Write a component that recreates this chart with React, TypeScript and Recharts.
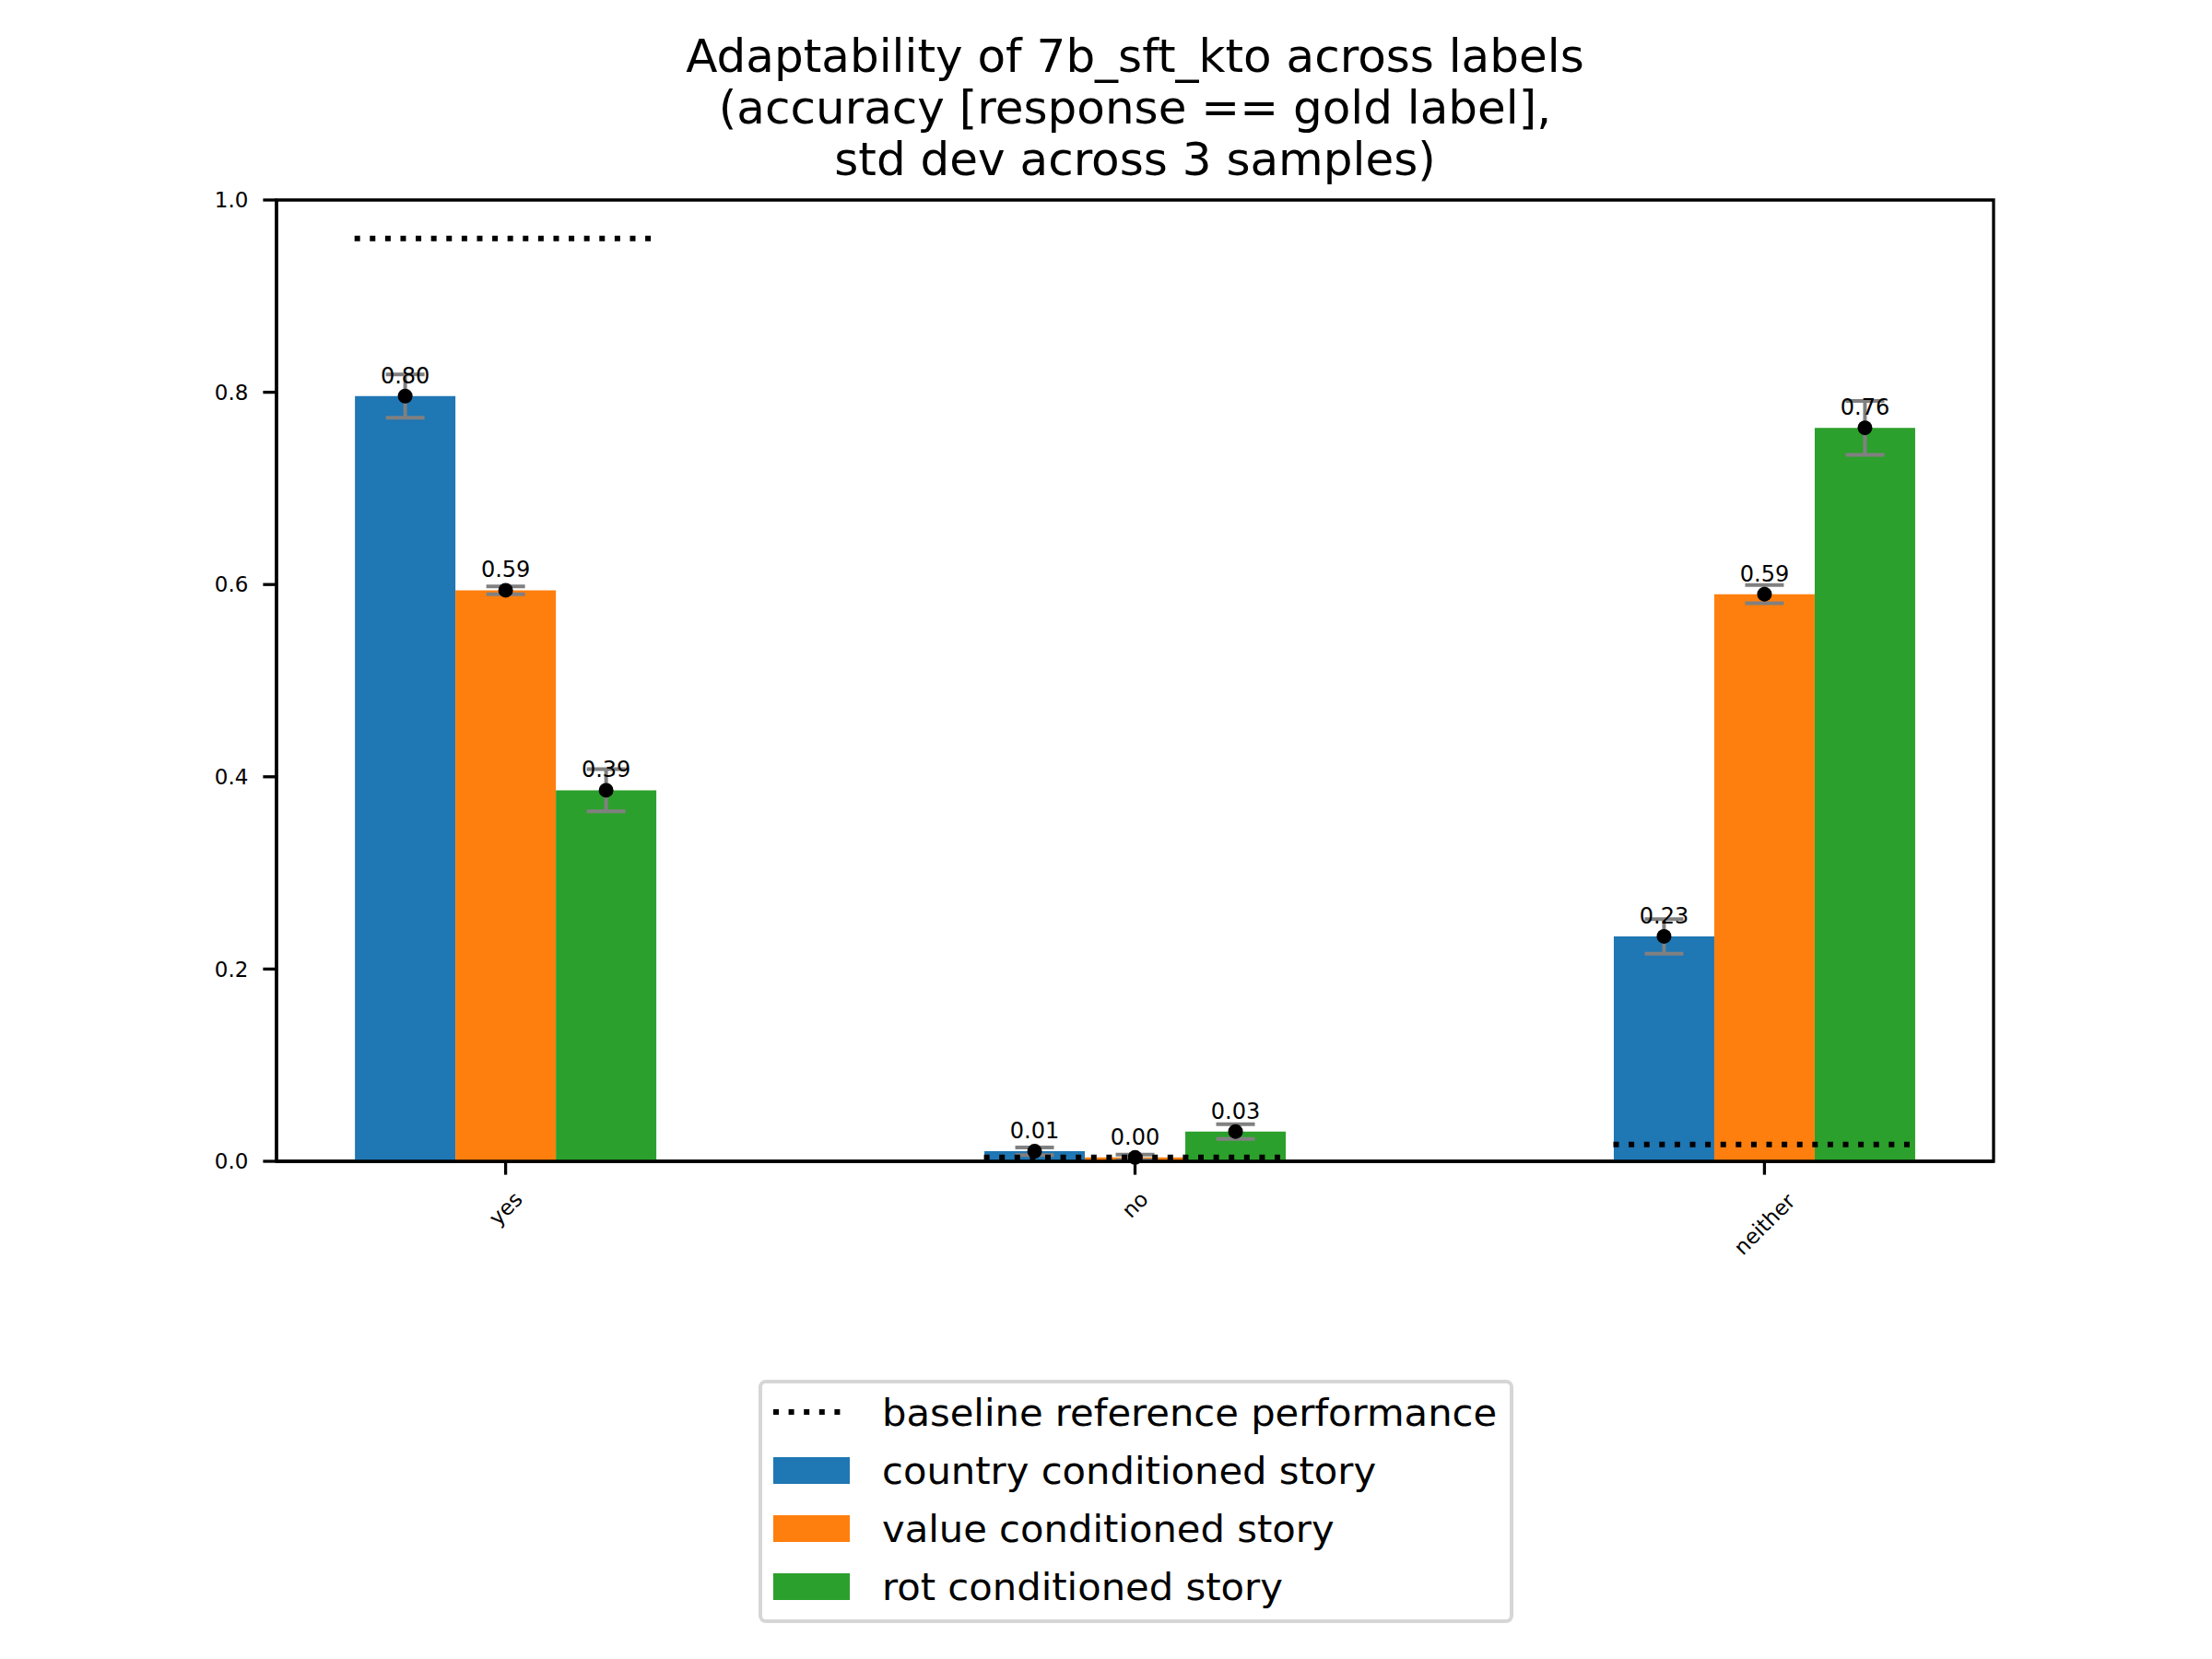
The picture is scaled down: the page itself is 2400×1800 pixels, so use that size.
import React from "react";
import {
  ComposedChart,
  Bar,
  ErrorBar,
  LabelList,
  XAxis,
  YAxis,
  ReferenceLine,
  ReferenceArea,
} from "recharts";

// data
const labels = ["yes", "no", "neither"];
const countryMean = [0.796, 0.0105, 0.234];
const countryStd = [0.0225, 0.004, 0.018];
const valueMean = [0.594, 0.004, 0.59];
const valueStd = [0.004, 0.003, 0.0095];
const rotMean = [0.386, 0.031, 0.763];
const rotStd = [0.022, 0.0077, 0.028];
const baseline = [0.96, 0.004, 0.0176];
const yTicks = [0, 0.2, 0.4, 0.6, 0.8, 1.0];

const BLUE = "#1f77b4";
const ORANGE = "#ff7f0e";
const GREEN = "#2ca02c";
const FONT = "DejaVu Sans";

const data = labels.map((label, i) => ({
  x: i,
  label,
  country: countryMean[i],
  countryErr: countryStd[i],
  value: valueMean[i],
  valueErr: valueStd[i],
  rot: rotMean[i],
  rotErr: rotStd[i],
}));

const xDomain = [-0.364, 2.364];
const groupHalf = 0.24;

// black dot on the bar top plus the value text above it
const DotLabel = (props: any) => {
  const { x, y, width, value } = props;
  const cx = x + width / 2;
  return (
    <g>
      <circle cx={cx} cy={y} r={8} fill="#000" />
      <text x={cx} y={y - 14} textAnchor="middle" fontSize={24} fontFamily={FONT} fill="#000">
        {Number(value).toFixed(2)}
      </text>
    </g>
  );
};

const XTick = (props: any) => {
  const { x, y, payload } = props;
  const text = labels[payload.value] ?? "";
  const fs = 23;
  const w = 0.52 * fs * text.length;
  const h = (w + fs * 1.15) * 0.7071;
  const cy = y + h / 2;
  return (
    <text
      x={x}
      y={cy}
      textAnchor="middle"
      dominantBaseline="central"
      fontSize={fs}
      fontFamily={FONT}
      fill="#000"
      transform={`rotate(-45, ${x}, ${cy})`}
    >
      {text}
    </text>
  );
};

const legendItems = [
  { name: "baseline reference performance", color: "#000", dotted: true },
  { name: "country conditioned story", color: BLUE, dotted: false },
  { name: "value conditioned story", color: ORANGE, dotted: false },
  { name: "rot conditioned story", color: GREEN, dotted: false },
];

export default function App() {
  return (
    <div
      style={{
        position: "absolute",
        left: 0,
        top: 0,
        width: 2400,
        height: 1800,
        background: "#fff",
        fontFamily: FONT,
      }}
    >
      <div
        style={{
          position: "absolute",
          left: 0,
          width: 2463,
          top: 33,
          textAlign: "center",
          fontSize: 50,
          lineHeight: "56px",
          color: "#000",
        }}
      >
        Adaptability of 7b_sft_kto across labels
        <br />
        (accuracy [response == gold label],
        <br />
        std dev across 3 samples)
      </div>

      <ComposedChart
        width={2400}
        height={1800}
        data={data}
        barGap={0}
        margin={{ top: 217, right: 237, left: 220, bottom: 440 }}
      >
        <XAxis
          type="number"
          dataKey="x"
          domain={xDomain}
          ticks={[0, 1, 2]}
          allowDataOverflow
          height={100}
          tick={<XTick />}
          tickSize={14.6}
          tickMargin={14.6}
          tickLine={{ stroke: "#000", strokeWidth: 3.3 }}
          axisLine={{ stroke: "#000", strokeWidth: 3.3 }}
        />
        <YAxis
          domain={[0, 1]}
          ticks={yTicks}
          width={80}
          tickFormatter={(v: number) => v.toFixed(1)}
          tick={{ fontSize: 23, fontFamily: FONT, fill: "#000" }}
          tickSize={14.6}
          tickMargin={16}
          tickLine={{ stroke: "#000", strokeWidth: 3.3 }}
          axisLine={{ stroke: "#000", strokeWidth: 3.3 }}
        />
        <Bar dataKey="country" fill={BLUE} barSize={109} isAnimationActive={false}>
          <ErrorBar dataKey="countryErr" width={21} stroke="#808080" strokeWidth={4} />
          <LabelList dataKey="country" content={<DotLabel />} />
        </Bar>
        <Bar dataKey="value" fill={ORANGE} barSize={109} isAnimationActive={false}>
          <ErrorBar dataKey="valueErr" width={21} stroke="#808080" strokeWidth={4} />
          <LabelList dataKey="value" content={<DotLabel />} />
        </Bar>
        <Bar dataKey="rot" fill={GREEN} barSize={109} isAnimationActive={false}>
          <ErrorBar dataKey="rotErr" width={21} stroke="#808080" strokeWidth={4} />
          <LabelList dataKey="rot" content={<DotLabel />} />
        </Bar>
        {baseline.map((b, i) => (
          <ReferenceLine
            key={i}
            segment={[
              { x: i - groupHalf, y: b },
              { x: i + groupHalf, y: b },
            ]}
            stroke="#000"
            strokeWidth={6}
            strokeDasharray="6 10.6"
            ifOverflow="visible"
          />
        ))}
        <ReferenceArea
          x1={xDomain[0]}
          x2={xDomain[1]}
          y1={0}
          y2={1}
          fill="none"
          stroke="#000"
          strokeWidth={3.3}
          ifOverflow="visible"
        />
      </ComposedChart>

      <div
        style={{
          position: "absolute",
          left: 823,
          top: 1497,
          width: 819,
          height: 264,
          boxSizing: "border-box",
          border: "4px solid #d6d6d6",
          borderRadius: 8,
          background: "#fff",
        }}
      >
        {legendItems.map((item, i) => (
          <div
            key={item.name}
            style={{
              position: "absolute",
              left: 0,
              top: 35 + i * 63 - 30 - 4,
              height: 60,
              display: "flex",
              alignItems: "center",
            }}
          >
            <svg width={130} height={60} style={{ display: "block" }}>
              {item.dotted ? (
                <line
                  x1={12}
                  x2={95}
                  y1={30}
                  y2={30}
                  stroke="#000"
                  strokeWidth={6}
                  strokeDasharray="6 10.6"
                />
              ) : (
                <rect x={12} y={16} width={83} height={29} fill={item.color} />
              )}
            </svg>
            <span style={{ fontSize: 41.7, color: "#000", whiteSpace: "nowrap" }}>{item.name}</span>
          </div>
        ))}
      </div>
    </div>
  );
}
